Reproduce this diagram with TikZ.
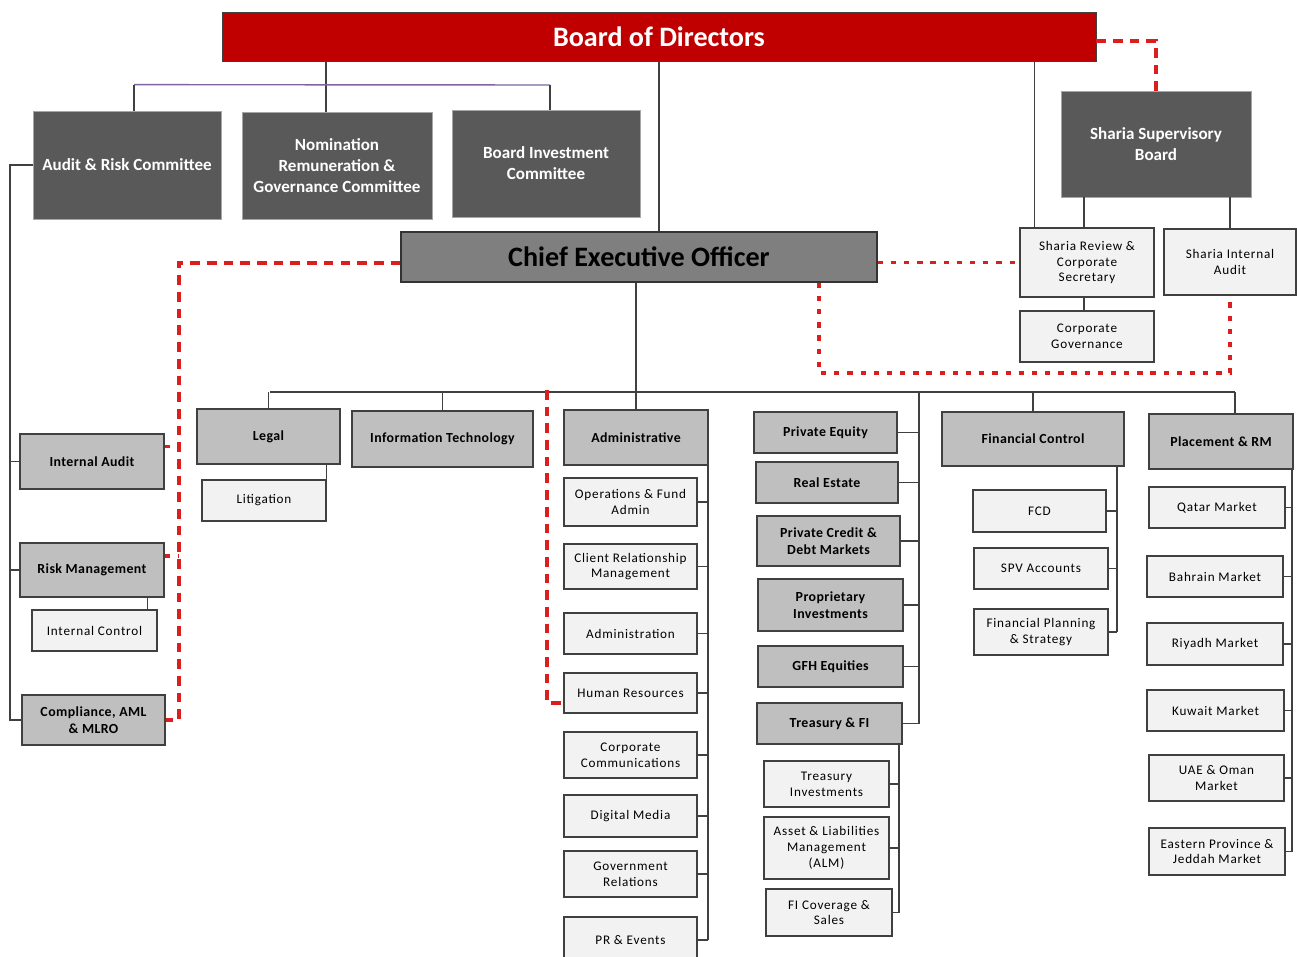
\documentclass[tikz,border=0pt]{standalone}
\usepackage{fontspec}
\setmainfont{Carlito}
\newfontfamily\spacedfont[LetterSpace=6]{Carlito}
\newfontfamily\unitfont[LetterSpace=3]{Carlito}
\usepackage{tikz}
\definecolor{gfhred}{HTML}{C00000}
\definecolor{boardgray}{HTML}{595959}
\definecolor{ceogray}{HTML}{7F7F7F}
\definecolor{unitgray}{HTML}{BFBFBF}
\definecolor{subgray}{HTML}{F2F2F2}
\definecolor{linegray}{HTML}{404040}
\definecolor{dashred}{HTML}{DC1E1E}
\definecolor{linkpurple}{HTML}{8064A2}

\begin{document}
\begin{tikzpicture}[x=0.02cm,y=-0.02cm,
    board node/.style={rectangle,draw=black!75,fill=gfhred,text=white,inner sep=0pt,font=\bfseries\fontsize{16}{18}\selectfont},
    top node/.style={rectangle,draw=gray!70,fill=boardgray,text=white,align=center,inner sep=0pt,font=\bfseries\fontsize{9.7}{12}\selectfont},
    ceo node/.style={rectangle,draw=black!80,line width=0.9pt,fill=ceogray,inner sep=0pt,font=\bfseries\fontsize{16}{18}\selectfont},
    unit node/.style={rectangle,draw=linegray,line width=0.9pt,fill=unitgray,align=center,inner sep=0pt,font=\unitfont\bfseries\fontsize{7.9}{10}\selectfont},
    sub node/.style={rectangle,draw=linegray,line width=0.8pt,fill=subgray,align=center,inner sep=0pt,font=\spacedfont\fontsize{7.5}{9}\selectfont},
    link/.style={-,draw=linegray,line width=0.8pt},
    red dash/.style={-,draw=dashred,line width=2.2pt,dash pattern=on 5.5pt off 4pt},
    red dots/.style={-,draw=dashred,line width=2.2pt,dash pattern=on 3pt off 4.5pt}]
  \fill[white] (0,0) rectangle (1297,956);
  \useasboundingbox (0,0) rectangle (1297,956);
  \begin{scope}
    % board level
    \node[board node,minimum width=17.48cm,minimum height=0.98cm] (bod) at (659,36.5) {Board of Directors};
    \node[top node,minimum width=3.76cm,minimum height=2.16cm] (arc) at (127,165) {Audit \& Risk Committee};
    \node[top node,minimum width=3.8cm,minimum height=2.14cm] (nrg) at (337,165.5) {Nomination\\Remuneration \&\\Governance Committee};
    \node[top node,minimum width=3.76cm,minimum height=2.14cm] (bic) at (546,163.5) {Board Investment\\Committee};
    \node[top node,minimum width=3.8cm,minimum height=2.12cm] (ssb) at (1156,144) {Sharia Supervisory\\Board};
    \node[ceo node,minimum width=9.52cm,minimum height=1.0cm] (ceo) at (639,257) {Chief Executive Officer};
    \node[sub node,minimum width=2.68cm,minimum height=1.38cm] (srcs) at (1087,262.5) {Sharia Review \&\\Corporate\\Secretary};
    \node[sub node,minimum width=2.64cm,minimum height=1.32cm] (sia) at (1230,262) {Sharia Internal\\Audit};
    \node[sub node,minimum width=2.68cm,minimum height=1.02cm] (cg) at (1087,336.5) {Corporate\\Governance};

    % control functions
    \node[unit node,minimum width=2.88cm,minimum height=1.1cm] (ia) at (92,461.5) {Internal Audit};
    \node[unit node,minimum width=2.88cm,minimum height=1.08cm] (rm) at (92,570) {Risk Management};
    \node[sub node,minimum width=2.5cm,minimum height=0.82cm] (ic) at (94.5,630.5) {Internal Control};
    \node[unit node,minimum width=2.86cm,minimum height=1.0cm] (cam) at (93.5,720) {Compliance, AML\\\& MLRO};

    % departments
    \node[unit node,minimum width=2.86cm,minimum height=1.1cm] (leg) at (268.5,436.5) {Legal};
    \node[sub node,minimum width=2.48cm,minimum height=0.82cm] (lit) at (264,500.5) {Litigation};
    \node[unit node,minimum width=3.62cm,minimum height=1.12cm] (it) at (442.5,439) {Information Technology};
    \node[unit node,minimum width=2.88cm,minimum height=1.1cm] (adm) at (636,437.5) {Administrative};
    \node[sub node,minimum width=2.66cm,minimum height=0.96cm] (ops) at (630.5,502) {Operations \& Fund\\Admin};
    \node[sub node,minimum width=2.66cm,minimum height=0.9cm] (crm) at (630.5,566.5) {Client Relationship\\Management};
    \node[sub node,minimum width=2.66cm,minimum height=0.82cm] (adn) at (630.5,633.5) {Administration};
    \node[sub node,minimum width=2.66cm,minimum height=0.8cm] (hr) at (630.5,693) {Human Resources};
    \node[sub node,minimum width=2.66cm,minimum height=0.92cm] (cc) at (630.5,755) {Corporate\\Communications};
    \node[sub node,minimum width=2.66cm,minimum height=0.84cm] (dm) at (630.5,816) {Digital Media};
    \node[sub node,minimum width=2.66cm,minimum height=0.92cm] (gr) at (630.5,874) {Government\\Relations};
    \node[sub node,minimum width=2.66cm,minimum height=0.92cm] (pre) at (630.5,940) {PR \& Events};

    \node[unit node,minimum width=2.86cm,minimum height=0.82cm] (pe) at (825.5,432.5) {Private Equity};
    \node[unit node,minimum width=2.84cm,minimum height=0.82cm] (re) at (827,482.5) {Real Estate};
    \node[unit node,minimum width=2.86cm,minimum height=1.0cm] (pcd) at (828.5,541) {Private Credit \&\\Debt Markets};
    \node[unit node,minimum width=2.9cm,minimum height=1.04cm] (pi) at (830.5,605) {Proprietary\\Investments};
    \node[unit node,minimum width=2.9cm,minimum height=0.82cm] (gfh) at (830.5,666.5) {GFH Equities};
    \node[unit node,minimum width=2.9cm,minimum height=0.82cm] (tfi) at (829.5,723.5) {Treasury \& FI};
    \node[sub node,minimum width=2.5cm,minimum height=0.92cm] (ti) at (826.5,784) {Treasury\\Investments};
    \node[sub node,minimum width=2.5cm,minimum height=1.24cm] (alm) at (826.5,848) {Asset \& Liabilities\\Management\\(ALM)};
    \node[sub node,minimum width=2.52cm,minimum height=0.94cm] (fic) at (829,912.5) {FI Coverage \&\\Sales};

    \node[unit node,minimum width=3.64cm,minimum height=1.08cm] (fc) at (1033,439) {Financial Control};
    \node[sub node,minimum width=2.66cm,minimum height=0.84cm] (fcd) at (1039.5,511) {FCD};
    \node[sub node,minimum width=2.68cm,minimum height=0.82cm] (spv) at (1041,568.5) {SPV Accounts};
    \node[sub node,minimum width=2.68cm,minimum height=0.92cm] (fps) at (1041,632) {Financial Planning\\\& Strategy};

    \node[unit node,minimum width=2.88cm,minimum height=1.1cm] (prm) at (1221,441.5) {Placement \& RM};
    \node[sub node,minimum width=2.72cm,minimum height=0.82cm] (qat) at (1217,507.5) {Qatar Market};
    \node[sub node,minimum width=2.72cm,minimum height=0.82cm] (bah) at (1215,576.5) {Bahrain Market};
    \node[sub node,minimum width=2.72cm,minimum height=0.84cm] (riy) at (1215,644) {Riyadh Market};
    \node[sub node,minimum width=2.74cm,minimum height=0.82cm] (kuw) at (1215.5,710.5) {Kuwait Market};
    \node[sub node,minimum width=2.7cm,minimum height=0.92cm] (uae) at (1216.5,778) {UAE \& Oman\\Market};
    \node[sub node,minimum width=2.72cm,minimum height=0.94cm] (epj) at (1217,851.5) {Eastern Province \&\\Jeddah Market};

    % junction points
    \coordinate (leftS) at (10,165);
    \coordinate (busL) at (270,392);
    \coordinate (busR) at (1235,392);
    \coordinate (admS) at (708,465);
    \coordinate (invS) at (919,392);
    \coordinate (trS) at (899,743);
    \coordinate (fcS) at (1117,466);
    \coordinate (prmS) at (1292,469);
    \coordinate (redL) at (179,263);
    \coordinate (redM) at (547,390);
    \coordinate (redB) at (819,373);

    % board links
    \path[link] ([xshift=-0.22cm]nrg.north) edge ([xshift=-0.22cm]nrg.north |- bod.south);
    \path[-,draw=linkpurple,line width=0.8pt] (arc.north) ++(7,-26) edge ([xshift=0.08cm]bic.north |- 0,85);
    \path[link] ([xshift=0.14cm]arc.north) edge ([xshift=0.14cm]arc.north |- 0,85);
    \path[link] ([xshift=0.08cm]bic.north) edge ([xshift=0.08cm]bic.north |- 0,85);
    \path[link] (bod.south) edge (bod.south |- ceo.north);
    \path[link] ([xshift=0.3cm]srcs.north west) edge ([xshift=0.3cm]srcs.north west |- bod.south);
    \path[link] ([xshift=-0.06cm]srcs.north) edge ([xshift=-0.06cm]srcs.north |- ssb.south);
    \path[link] (sia.north) edge (sia.north |- ssb.south);
    \path[link] ([xshift=-0.06cm]srcs.south) edge ([xshift=-0.06cm]cg.north);

    % control functions links
    \draw[link] (arc.west) -- (leftS) |- (cam.west);
    \path[link] (ia.west) edge (ia.west -| leftS);
    \path[link] (rm.west) edge (rm.west -| leftS);
    \path[link] ([xshift=-0.2cm]ic.north east) edge ([xshift=-0.2cm]ic.north east |- rm.south);

    % department bus
    \path[link] (busL) edge (busR);
    \path[link] (adm.north |- ceo.south) edge (adm.north);
    \path[link] (leg.north) edge (leg.north |- busL);
    \path[link] (lit.north east) edge (lit.north east |- leg.south);
    \path[link] (it.north) edge (it.north |- busL);
    \path[link] (fc.north) edge (fc.north |- busR);
    \path[link] (busR) edge (busR |- prm.north);

    % administrative
    \path[link] (admS) edge (admS |- pre.east);
    \path[link] (ops.east) edge (ops.east -| admS);
    \path[link] (crm.east) edge (crm.east -| admS);
    \path[link] (adn.east) edge (adn.east -| admS);
    \path[link] (hr.east) edge (hr.east -| admS);
    \path[link] (cc.east) edge (cc.east -| admS);
    \path[link] (dm.east) edge (dm.east -| admS);
    \path[link] (gr.east) edge (gr.east -| admS);
    \path[link] (pre.east) edge (pre.east -| admS);

    % investments
    \path[link] (invS) edge (invS |- tfi.east);
    \path[link] (pe.east) edge (pe.east -| invS);
    \path[link] (re.east) edge (re.east -| invS);
    \path[link] (pcd.east) edge (pcd.east -| invS);
    \path[link] (pi.east) edge (pi.east -| invS);
    \path[link] (gfh.east) edge (gfh.east -| invS);
    \path[link] (tfi.east) edge (tfi.east -| invS);
    \path[link] (trS) edge (trS |- fic.east);
    \path[link] (ti.east) edge (ti.east -| trS);
    \path[link] (alm.east) edge (alm.east -| trS);
    \path[link] (fic.east) edge (fic.east -| trS);

    % financial control
    \path[link] (fcS) edge (fcS |- fps.east);
    \path[link] (fcd.east) edge (fcd.east -| fcS);
    \path[link] (spv.east) edge (spv.east -| fcS);
    \path[link] (fps.east) edge (fps.east -| fcS);

    % placement
    \path[link] (prmS) edge (prmS |- epj.east);
    \path[link] (qat.east) edge (qat.east -| prmS);
    \path[link] (bah.east) edge (bah.east -| prmS);
    \path[link] (riy.east) edge (riy.east -| prmS);
    \path[link] (kuw.east) edge (kuw.east -| prmS);
    \path[link] (uae.east) edge (uae.east -| prmS);
    \path[link] (epj.east) edge (epj.east -| prmS);

    % dotted reporting lines
    \draw[red dash] ([yshift=-0.09cm]bod.east) -| (ssb.north);
    \draw[red dots] (srcs.west -| ceo.east) -- (srcs.west);
    \draw[red dash] ([yshift=-0.12cm]ceo.west) -- ([yshift=-0.12cm]ceo.west -| redL) -- (redL |- cam.east) -- (cam.east);
    \draw[red dots] ([yshift=0.3cm]ia.east) -- ([yshift=0.3cm]ia.east -| redL);
    \draw[red dots] ([yshift=0.28cm]rm.east) -- ([yshift=0.28cm]rm.east -| redL);
    \draw[red dots] (redB |- ceo.south) -- (redB) -| (sia.south);
    \draw[red dash] (redM) |- ([yshift=-0.2cm]hr.west);
  \end{scope}
\end{tikzpicture}
\end{document}
